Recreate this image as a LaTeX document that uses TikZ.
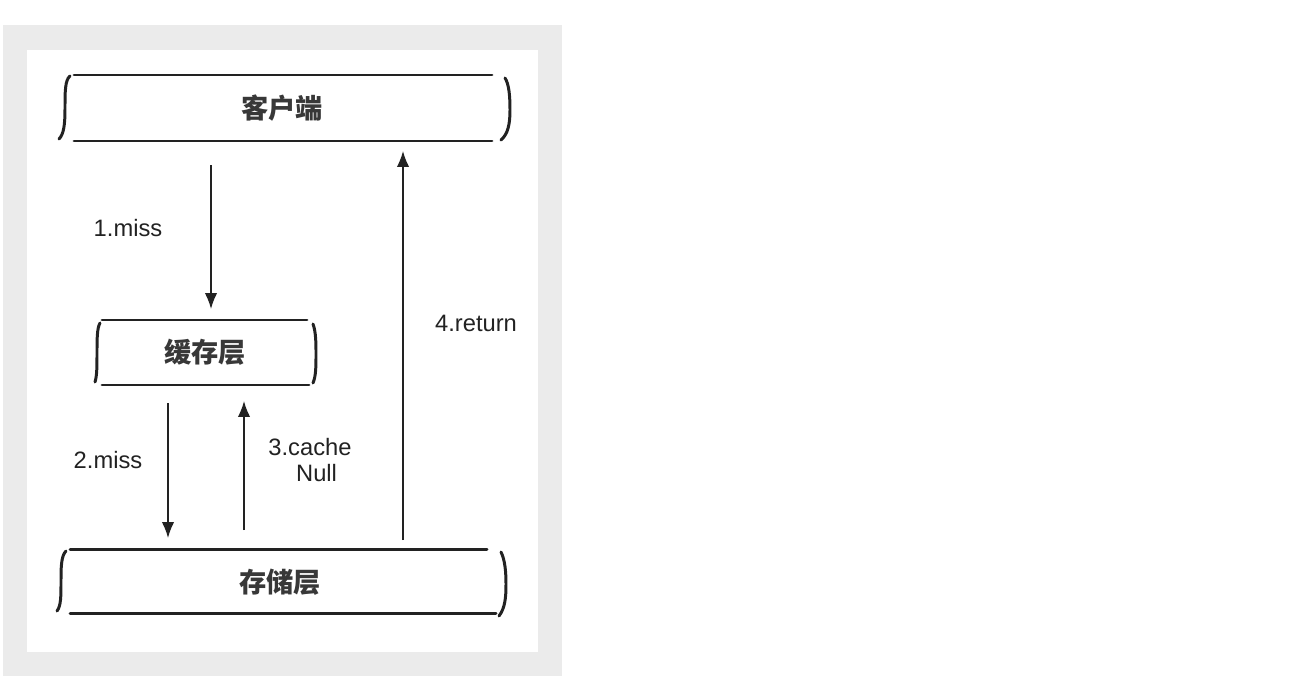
\documentclass[tikz,border=0pt]{standalone}
\usepackage{fontspec}
\setmainfont{Liberation Sans}
\newfontfamily\cjk{Noto Sans CJK SC}
\usetikzlibrary{arrows.meta}
\definecolor{panelgray}{HTML}{EBEBEB}
\definecolor{ink}{HTML}{222222}

\begin{document}
\begin{tikzpicture}[x=0.02cm, y=-0.02cm,
    layer/.style={font=\cjk\bfseries\fontsize{15.5}{18}\selectfont, text=ink!90, inner sep=0pt},
    edge/.style={line width=1.7pt, line cap=round, ink},
    flow/.style={-{Latex[length=9pt, width=7pt]}, line width=0.9pt, ink},
    tag/.style={font=\fontsize{13.5}{16}\selectfont, text=ink, inner sep=0pt, align=center}]
  \useasboundingbox (0,0) rectangle (1305,693);
  \fill[white] (0,0) rectangle (1305,693);
  \fill[panelgray] (3,25) rectangle (562,676);
  \fill[white] (27,50) rectangle (538,652);

  % client layer
  \draw[edge] (74,75) -- (492,75) (74,141) -- (492,141);
  \draw[edge] (70,76) .. controls (65,80) and (65,92) .. (65,108) .. controls (65,124) and (64,134) .. (59,139);
  \draw[edge] (505,78) .. controls (509,84) and (510,96) .. (510,110) .. controls (510,124) and (508,134) .. (501,140);
  \node[layer] (client) at (282,108) {客户端};

  % cache layer
  \draw[edge] (102,320) -- (307,320) (102,385) -- (309,385);
  \draw[edge] (100,323) .. controls (97,328) and (97,340) .. (97,352) .. controls (97,366) and (97,376) .. (95,382);
  \draw[edge] (313,324) .. controls (316,332) and (316,344) .. (316,354) .. controls (316,366) and (316,376) .. (313,383);
  \node[layer] (cache) at (205,352) {缓存层};

  % storage layer
  \draw[edge] (70,549) -- (487,549) (70,613) -- (496,613);
  \draw[edge] (66,551) .. controls (61,556) and (61,568) .. (61,582) .. controls (61,596) and (61,606) .. (57,611);
  \draw[edge] (501,552) .. controls (505,560) and (506,572) .. (506,584) .. controls (506,598) and (505,608) .. (499,616);
  \node[layer] (storage) at (280,582) {存储层};

  % arrow ends
  \coordinate (c1) at (211,165);  \coordinate (k1) at (211,309);
  \coordinate (k2) at (168,403);  \coordinate (s2) at (168,538);
  \coordinate (s3) at (244,530);  \coordinate (k3) at (244,401);
  \coordinate (s4) at (403,540);  \coordinate (c4) at (403,151);

  \draw[flow] (c1) -- (k1);
  \draw[flow] (k2) -- (s2);
  \draw[flow] (s3) -- (k3);
  \draw[flow] (s4) -- (c4);

  \node[tag] (miss1) at (128,228) {1.miss};
  \node[tag] (miss2) at (108,460) {2.miss};
  \node[tag] (null3) at (310,460) {3.cache\\[-1pt]\ \ Null};
  \node[tag] (ret4) at (476,323) {4.return};
\end{tikzpicture}
\end{document}
